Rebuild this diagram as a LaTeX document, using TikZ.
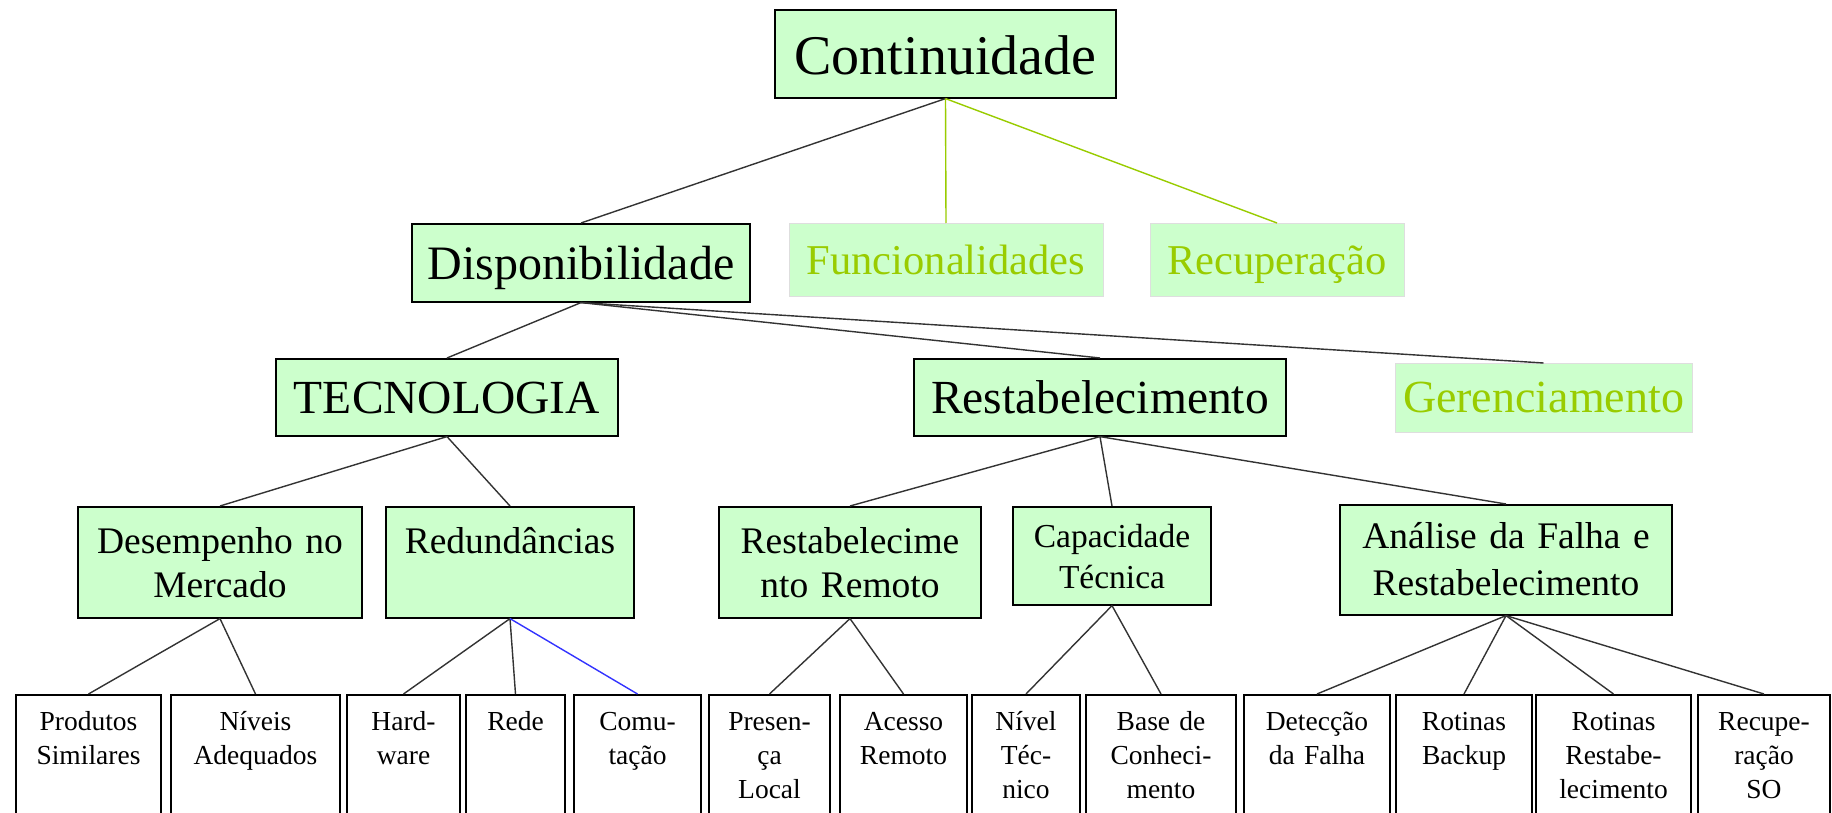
\documentclass[tikz,border=0pt]{standalone}
\usepackage{fontspec}
\setmainfont{Liberation Serif}
\definecolor{boxgreen}{HTML}{CCFFCC}
\definecolor{palegreen}{HTML}{99CC00}
\definecolor{linkblue}{HTML}{3333FF}
\tikzstyle{b} = [draw=black, line width=1.6pt, fill=boxgreen, anchor=north, inner sep=0pt, align=center]

\begin{document}
\begin{tikzpicture}[x=1pt, y=-1pt,
			main/.style={b},
			pale/.style={b, draw=black!13, line width=1pt, text=palegreen},
			mid/.style={b, text height=47pt, text depth=64pt, font=\fontsize{37.5}{44}\selectfont},
			leaf/.style={b, fill=white, text height=36pt, text depth=150pt, font=\fontsize{27.5}{34}\selectfont},
			link/.style={line width=1.4pt, black!80},
			palelink/.style={line width=1.4pt, palegreen}]
			\clip (0,0) rectangle (1832,813);
			\fill[white] (0,0) rectangle (1832,813);
			\node (cont)[main, text width=341pt, text height=65pt, text depth=23pt, font=\fontsize{56}{60}\selectfont] at (945.5,9) {Continuidade};
			\node (disp)[main, text width=338pt, text height=56pt, text depth=22pt, font=\fontsize{48}{52}\selectfont] at (581,223) {Disponibilidade};
			\node (func)[pale, text width=314pt, text height=51pt, text depth=22pt, font=\fontsize{42.5}{46}\selectfont] at (946,223) {Funcionalidades};
			\node (recu)[pale, text width=254pt, text height=51pt, text depth=22pt, font=\fontsize{42.5}{46}\selectfont] at (1277,223) {Recuperação};
			\node (tec)[main, text width=342pt, text height=55pt, text depth=22pt, font=\fontsize{47.5}{52}\selectfont] at (447,358) {TECNOLOGIA};
			\node (rest)[main, text width=372pt, text height=55pt, text depth=22pt, font=\fontsize{47.5}{52}\selectfont] at (1100,358) {Restabelecimento};
			\node (ger)[pale, text width=297pt, text height=49pt, text depth=20pt, font=\fontsize{46}{50}\selectfont] at (1543.5,363) {Gerenciamento};
			
			\node (desem)[mid, text width=284pt] at (220,506) {Desempenho no\\Mercado};
			\node (redun)[mid, text width=248pt] at (510,506) {Redundâncias};
			\node (rrem)[mid, text width=262pt] at (850,506) {Restabelecime\\nto Remoto};
			\node (capac)[mid, text width=198pt, text height=41pt, text depth=57pt, font=\fontsize{33.5}{41}\selectfont] at (1112,506) {Capacidade\\Técnica};
			\node (anal)[mid, text width=332pt, text height=44pt, text depth=66pt, font=\fontsize{37.5}{47}\selectfont] at (1506,504) {Análise da Falha e\\Restabelecimento};
			
			\node (prod)[leaf, text width=145pt] at (88.5,694) {Produtos\\Similares};
			\node (niv)[leaf, text width=169pt] at (255.5,694) {Níveis\\Adequados};
			\node (hard)[leaf, text width=113pt] at (403.5,694) {Hard-\\ware};
			\node (rede)[leaf, text width=99pt] at (515.5,694) {Rede};
			\node (comu)[leaf, text width=127pt] at (637.5,694) {Comu-\\tação};
			\node (pres)[leaf, text width=121pt] at (769.5,694) {Presen-\\ça\\Local};
			\node (aces)[leaf, text width=127pt] at (903.5,694) {Acesso\\Remoto};
			\node (nivt)[leaf, text width=108pt] at (1026,694) {Nível\\Téc-\\nico};
			\node (base)[leaf, text width=150pt] at (1161,694) {Base de\\Conheci-\\mento};
			\node (dete)[leaf, text width=146pt] at (1317,694) {Detecção\\da Falha};
			\node (back)[leaf, text width=136pt] at (1464,694) {Rotinas\\Backup};
			\node (rrest)[leaf, text width=155pt] at (1613.5,694) {Rotinas\\Restabe-\\lecimento};
			\node (rso)[leaf, text width=132pt] at (1764,694) {Recupe-\\ração\\SO};
			
			\draw[link] (cont.south) -- (disp.north);
			\draw[palelink] (cont.south) -- (func.north);
			\draw[palelink] (cont.south) -- (recu.north);
			\draw[link] (disp.south) -- (tec.north);
			\draw[link] (disp.south) -- (rest.north);
			\draw[link] (disp.south) -- (ger.north);
			\draw[link] (tec.south) -- (desem.north);
			\draw[link] (tec.south) -- (redun.north);
			\draw[link] (rest.south) -- (rrem.north);
			\draw[link] (rest.south) -- (capac.north);
			\draw[link] (rest.south) -- (anal.north);
			\draw[link] (desem.south) -- (prod.north);
			\draw[link] (desem.south) -- (niv.north);
			\draw[link] (redun.south) -- (hard.north);
			\draw[link] (redun.south) -- (rede.north);
			\draw[link, linkblue] (redun.south) -- (comu.north);
			\draw[link] (rrem.south) -- (pres.north);
			\draw[link] (rrem.south) -- (aces.north);
			\draw[link] (capac.south) -- (nivt.north);
			\draw[link] (capac.south) -- (base.north);
			\draw[link] (anal.south) -- (dete.north);
			\draw[link] (anal.south) -- (back.north);
			\draw[link] (anal.south) -- (rrest.north);
			\draw[link] (anal.south) -- (rso.north);
		\end{tikzpicture}
\end{document}
